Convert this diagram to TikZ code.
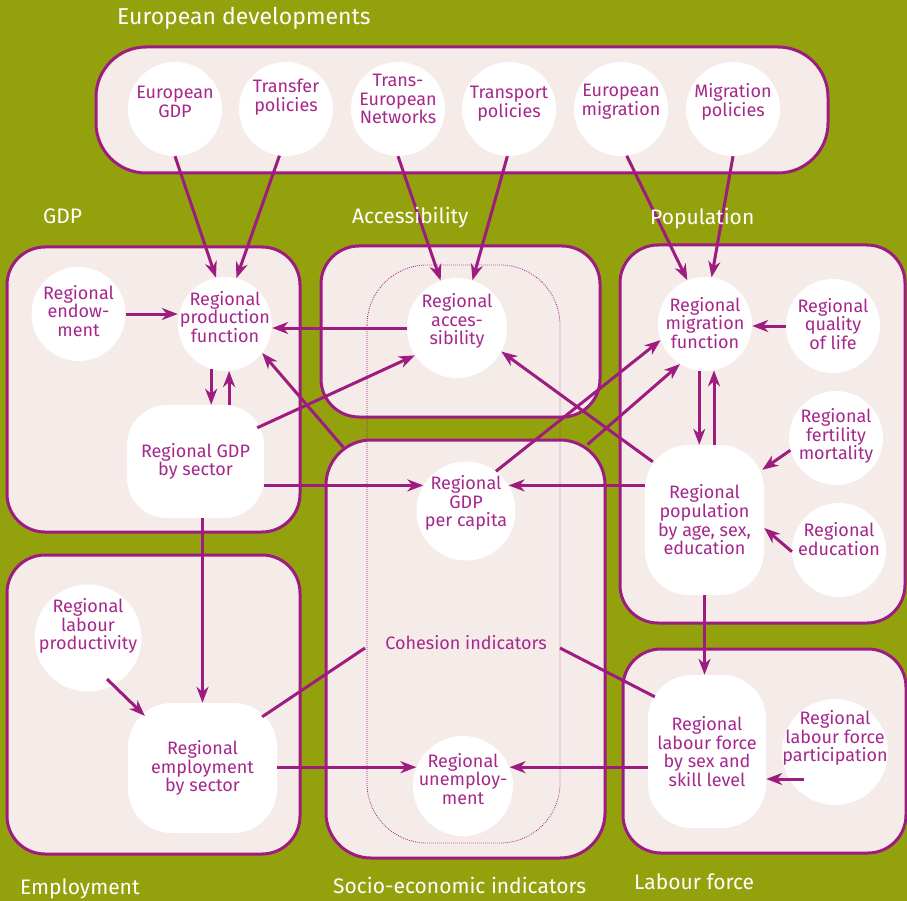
\documentclass[tikz,border=0pt]{standalone}
\usepackage{fontspec}
\setmainfont{Fira Sans}
\usetikzlibrary{arrows.meta}

\definecolor{olive}{RGB}{147,161,13}
\definecolor{blush}{RGB}{245,236,234}
\definecolor{plum}{RGB}{158,28,128}
\definecolor{plumtext}{RGB}{166,40,140}

\tikzset{
  region/.style={draw=plum, fill=blush, line width=3pt, rounded corners=38pt, inner sep=0pt},
  bubble/.style={circle, fill=white, minimum size=94pt, inner sep=0pt},
  slab/.style={rectangle, fill=white, rounded corners=44pt, inner sep=0pt,
               text=plumtext, align=center, font=\fontsize{18}{18.7}\selectfont},
  caption/.style={text=white, font=\fontsize{21}{24}\selectfont, anchor=base west, inner sep=0pt},
  inner/.style={text=plumtext, align=center, font=\fontsize{18}{18.7}\selectfont, inner sep=0pt},
  flow/.style={draw=plum, line width=3pt, -{Stealth[length=16pt,width=12pt,inset=5pt]}},
  link/.style={draw=plum, line width=3pt},
  cohesion/.style={draw=plum, line width=0.8pt, dash pattern=on 0.8pt off 1.2pt, rounded corners=60pt},
}

\begin{document}
\begin{tikzpicture}[x=1pt, y=-1pt]
  \useasboundingbox (0,0) rectangle (907,901);
  \fill[olive] (0,0) rectangle (907,901);

  % group boxes
  \node[region, rounded corners=50pt, minimum width=732pt, minimum height=126pt] (eubox) at (462,110) {};
  \node[region, minimum width=293pt, minimum height=285pt] (gdpbox) at (153.5,389.5) {};
  \node[region, minimum width=279pt, minimum height=171pt] (accbox) at (460.5,331.5) {};
  \node[region, minimum width=285pt, minimum height=378pt] (popbox) at (762.5,434) {};
  \node[region, rounded corners=45pt, minimum width=279pt, minimum height=418pt] (soc) at (465.5,649) {};
  \node[region, minimum width=293pt, minimum height=299pt] (empbox) at (153.5,704.5) {};
  \node[region, minimum width=283pt, minimum height=204pt] (lfbox) at (764.5,751) {};

  % dotted frame of the cohesion indicators
  \draw[cohesion] (367,265) rectangle (560,843);

  % European developments
  \node[bubble, label={[inner, yshift=7pt]center:{European\\GDP}}] (eugdp) at (175,109) {};
  \node[bubble, label={[inner, yshift=12pt]center:{Transfer\\policies}}] (transfer) at (286,109) {};
  \node[bubble, label={[inner, yshift=10pt]center:{Trans-\\European\\Networks}}] (ten) at (398,109) {};
  \node[bubble, label={[inner, yshift=5pt]center:{Transport\\policies}}] (transport) at (509,109) {};
  \node[bubble, label={[inner, yshift=7pt]center:{European\\migration}}] (eumig) at (621,109) {};
  \node[bubble, label={[inner, yshift=7pt]center:{Migration\\policies}}] (migpol) at (733,109) {};

  % GDP
  \node[bubble, label={[inner, yshift=3pt]center:{Regional\\endow-\\ment}}] (endow) at (78.5,314) {};
  \node[bubble, label={[inner, yshift=7pt]center:{Regional\\production\\function}}] (prod) at (225,324) {};
  \node[slab, rounded corners=40pt, minimum width=137pt, minimum height=113pt] (gdps) at (195.5,461.5) {Regional GDP\\by sector};

  % Accessibility
  \node[bubble, minimum size=100pt, label={[inner, yshift=7pt]center:{Regional\\acces-\\sibility}}] (acc) at (457,328) {};

  % Population
  \node[bubble, label={[inner, yshift=1pt]center:{Regional\\migration\\function}}] (mig) at (705,324) {};
  \node[bubble, label={[inner, yshift=2pt]center:{Regional\\quality\\of life}}] (qol) at (833,326) {};
  \node[bubble, label={[inner, yshift=2pt]center:{Regional\\fertility\\mortality}}] (fert) at (836,438) {};
  \node[bubble, label={[inner, yshift=11pt]center:{Regional\\education}}] (edu) at (839,550) {};
  \node[slab, minimum width=119pt, minimum height=150pt] (pop) at (704.5,520) {Regional\\population\\by age, sex,\\education};

  % Socio-economic indicators
  \node[bubble, minimum size=99pt, label={[inner, yshift=8pt]center:{Regional\\GDP\\per capita}}] (gdppc) at (466,511) {};
  \node[inner] (coh) at (466,643) {Cohesion indicators};
  \node[bubble, minimum size=100pt, label={[inner, yshift=7pt]center:{Regional\\unemploy-\\ment}}] (unemp) at (463,786) {};

  % Employment
  \node[bubble, minimum size=107pt, label={[inner, yshift=12pt]center:{Regional\\labour\\productivity}}] (lprod) at (88,638) {};
  \node[slab, minimum width=149pt, minimum height=130pt] (emp) at (202.5,768) {Regional\\employment\\by sector};

  % Labour force
  \node[slab, minimum width=118pt, minimum height=153pt] (lf) at (707,751.5) {Regional\\labour force\\by sex and\\skill level};
  \node[bubble, minimum size=106pt, label={[inner, yshift=14pt]center:{Regional\\labour force\\participation}}] (lpart) at (835,752) {};
  \coordinate (lpartout) at ([shift={(-31,27)}]lpart.center);

  % European developments feed the regional functions
  \draw[flow] (eugdp.south) -- (prod.101);
  \draw[flow] (transfer.-98) -- (prod.76);
  \draw[flow] (ten.south) -- (acc.109);
  \draw[flow] (transport.-92) -- (acc.72);
  \draw[flow] (eumig.-83) -- (mig.112);
  \draw[flow] (migpol.south) -- (mig.82);

  % GDP links
  \draw[flow] (endow.east) -- (endow.east -| prod.west);
  \draw[flow] (prod.-107) -- (prod.-107 |- gdps.north);
  \draw[flow] (gdps.north -| prod.-85) -- (prod.-85);
  \draw[flow] (acc.west) -- (acc.west -| prod.east);
  \draw[flow] ([shift={(-7,23)}]gdps.north east) -- (acc.213);
  \draw[flow] ([shift={(19,9)}]soc.north west) -- (prod.-38);
  \draw[flow] (gdppc.149 -| gdps.east) -- (gdppc.149);
  \draw[flow] (emp.north |- gdps.south) -- (emp.north);

  % population links
  \draw[flow] ([shift={(-19,6)}]soc.north east) -- (mig.-122);
  \draw[flow] (gdppc.53) -- (mig.200);
  \draw[flow] ([shift={(8,17)}]pop.north west) -- (acc.-28);
  \draw[flow] (gdppc.31 -| pop.west) -- (gdppc.31);
  \draw[flow] (qol.west) -- (qol.west -| mig.east);
  \draw[flow] (mig.-97) -- (mig.-97 |- pop.north);
  \draw[flow] (pop.north -| mig.-79) -- (mig.-79);
  \draw[flow] (fert.195) -- ([shift={(-2,25)}]pop.north east);
  \draw[flow] (edu.182) -- ([yshift=-8pt]pop.east);
  \draw[flow] (pop.south) -- (pop.south |- lf.north);

  % employment and labour force links
  \draw[flow] ([shift={(19,41)}]lprod.center) -- ([shift={(17,13)}]emp.north west);
  \draw[link] ([shift={(-101,5)}]coh.center) -- ([shift={(-15,14)}]emp.north east);
  \draw[link] ([shift={(94,5)}]coh.center) -- ([shift={(7,22)}]lf.north west);
  \draw[flow] (unemp.158 -| emp.east) -- (unemp.158);
  \draw[flow] (unemp.22 -| lf.west) -- (unemp.22);
  \draw[flow] (lpartout) -- (lpartout -| lf.east);

  % group captions
  \node[caption, font=\fontsize{23}{26}\selectfont] (capeu) at (117,25) {European developments};
  \node[caption] (capgdp) at (43,224)  {GDP};
  \node[caption] (capacc) at (352,224) {Accessibility};
  \node[caption] (cappop) at (650,225) {Population};
  \node[caption] (capemp) at (20,894)  {Employment};
  \node[caption] (capsoc) at (333,893) {Socio-economic indicators};
  \node[caption] (caplf)  at (634,889) {Labour force};
\end{tikzpicture}
\end{document}
